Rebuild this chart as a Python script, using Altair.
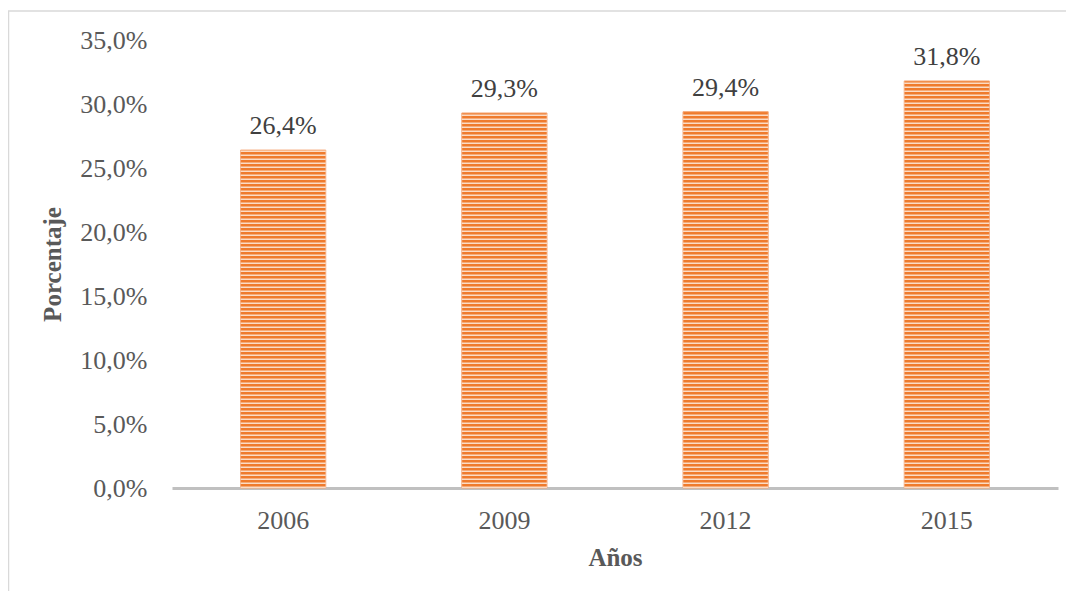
import altair as alt
import pandas as pd

years = ["2006", "2009", "2012", "2015"]
values = [0.264, 0.293, 0.294, 0.318]
label_texts = ["26,4%", "29,3%", "29,4%", "31,8%"]
y_ticks = [0, 0.05, 0.10, 0.15, 0.20, 0.25, 0.30, 0.35]

W, H = 886, 448
YMAX = 0.35
ORANGE = "#EF7B2D"
LIGHT = "#FBDCC6"
FONT = "Liberation Serif"
STEP = YMAX / H * 4          # stripe period (4 px) in data units
STRIPE = YMAX / H * 1.5      # light stripe thickness (1.5 px)

df = pd.DataFrame({"year": years, "value": values, "label": label_texts})

x_enc = alt.X(
    "year:N",
    sort=years,
    scale=alt.Scale(paddingInner=0.615, paddingOuter=0.31),
    axis=alt.Axis(
        title="Años",
        labelAngle=0,
        labelFont=FONT,
        labelFontSize=26,
        labelColor="#595959",
        labelBaseline="alphabetic",
        labelPadding=40,
        ticks=False,
        domainColor="#C0C0C0",
        domainWidth=3,
        titleFont=FONT,
        titleFontSize=25,
        titleFontWeight="bold",
        titleColor="#595959",
        titleBaseline="alphabetic",
        titleY=77,
        grid=False,
    ),
)

y_enc = alt.Y(
    "value:Q",
    scale=alt.Scale(domain=[0, YMAX], nice=False),
    axis=alt.Axis(
        title="Porcentaje",
        values=y_ticks,
        labelExpr="replace(format(datum.value, '.1%'), '.', ',')",
        labelFont=FONT,
        labelFontSize=26,
        labelColor="#595959",
        labelPadding=25,
        ticks=False,
        domain=False,
        grid=False,
        titleFont=FONT,
        titleFontSize=25,
        titleFontWeight="bold",
        titleColor="#595959",
        titleBaseline="alphabetic",
        titleX=-112,
        titleY=H / 2,
    ),
)

base = alt.Chart(df)

bars = base.mark_bar(color=ORANGE, stroke="#F5A777", strokeWidth=1).encode(
    x=x_enc, y=y_enc
)

stripe_layer = (
    base.transform_calculate(s=f"sequence(0, datum.value - {STRIPE}, {STEP})")
    .transform_flatten(["s"])
    .transform_calculate(s2=f"datum.s + {STRIPE}")
    .mark_rect(color=LIGHT)
    .encode(
        x=alt.X("year:N", sort=years),
        y=alt.Y("s:Q"),
        y2="s2:Q",
    )
)

texts = base.mark_text(
    font=FONT, fontSize=26, color="#404040", baseline="alphabetic", dy=-16
).encode(x=alt.X("year:N", sort=years), y="value:Q", text="label:N")

border = alt.Chart(pd.DataFrame({"a": [0]})).mark_rect(
    fill=None, stroke="#D9D9D9", strokeWidth=1.5
).encode(
    x=alt.value(-163.5),
    x2=alt.value(W + 200),
    y=alt.value(-29),
    y2=alt.value(H + 300),
)

chart = (
    alt.layer(border, bars, stripe_layer, texts)
    .properties(
        width=W,
        height=H,
        autosize=alt.AutoSizeParams(type="none"),
        padding={"left": 164, "top": 32, "right": 8, "bottom": 103},
        background="white",
    )
    .configure_view(stroke=None)
)

chart.save("out.html", embed_options={"renderer": "svg", "actions": False})
